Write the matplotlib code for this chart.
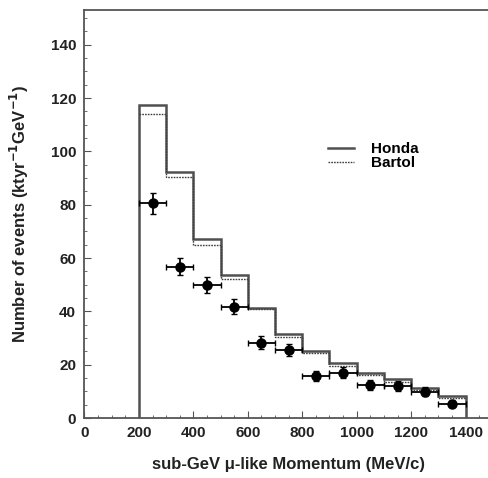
import matplotlib
matplotlib.use("Agg")
import matplotlib.pyplot as plt
import numpy as np
from matplotlib.ticker import MultipleLocator

bin_edges = [200, 300, 400, 500, 600, 700, 800, 900, 1000, 1100, 1200, 1300, 1400]
honda = [117.4, 92.3, 67.0, 53.7, 41.4, 31.4, 25.3, 20.5, 17.0, 14.5, 11.1, 8.3]
bartol = [114.0, 90.5, 65.0, 52.0, 40.8, 30.4, 24.5, 19.5, 16.0, 13.5, 10.5, 7.5]
data_x = [250, 350, 450, 550, 650, 750, 850, 950, 1050, 1150, 1250, 1350]
data_y = [80.5, 56.8, 49.9, 41.8, 28.3, 25.5, 15.8, 17.0, 12.4, 12.1, 9.9, 5.3]
data_err = [4.0, 3.2, 3.0, 2.8, 2.5, 2.4, 2.0, 2.0, 1.8, 1.8, 1.6, 1.3]
x_halfwidth = [50] * 12

plt.rcParams['font.family'] = ['Liberation Sans', 'DejaVu Sans']

fig = plt.figure(figsize=(4.88, 4.78), dpi=100)
ax = fig.add_axes([0.173, 0.1255, 0.837, 0.8535])

lc = '#505050'
ax.stairs(honda, bin_edges, baseline=0, color=lc, lw=1.8, ls='-', label='Honda')
ax.stairs(bartol, bin_edges, baseline=None, color='#404040', lw=1.0, ls=(0, (1.2, 0.8)), label='Bartol')
ax.errorbar(data_x, data_y, yerr=data_err, xerr=x_halfwidth, fmt='o', color='black',
            ms=6.5, elinewidth=1.3, capsize=2.5, capthick=1.0)

ax.set_xlim(0, 1500)
ax.set_ylim(0, 153)
ax.xaxis.set_major_locator(MultipleLocator(200))
ax.xaxis.set_minor_locator(MultipleLocator(50))
ax.yaxis.set_major_locator(MultipleLocator(20))
ax.yaxis.set_minor_locator(MultipleLocator(5))
ax.tick_params(which='both', direction='in', top=False, right=False, colors='#555555',
               labelcolor='#222222')
ax.tick_params(which='major', length=5, labelsize=11, pad=6)
ax.tick_params(which='minor', length=2.5)
for lab in ax.get_xticklabels() + ax.get_yticklabels():
    lab.set_fontweight('bold')
for s in ax.spines.values():
    s.set_color('#555555')
    s.set_linewidth(1.3)

ax.set_xlabel('sub-GeV \u03bc-like Momentum (MeV/c)', fontsize=12, fontweight='bold',
              color='#222222', labelpad=12)
ax.set_ylabel('Number of events (ktyr$^{\\mathbf{-1}}$GeV$^{\\mathbf{-1}}$)', fontsize=12,
              fontweight='bold', color='#222222', labelpad=14)

leg = ax.legend(loc='upper left', bbox_to_anchor=(0.562, 0.71), frameon=False,
                handlelength=1.75, labelspacing=0.0, handletextpad=1.05,
                prop={'weight': 'bold', 'size': 11})

fig.savefig('out.png', dpi=100)
